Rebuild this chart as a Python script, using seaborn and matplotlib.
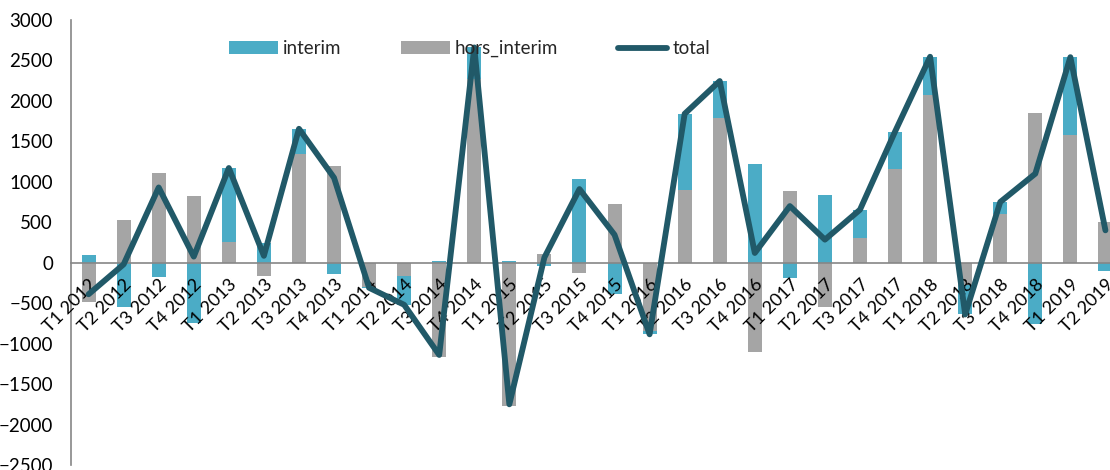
import numpy as np
import pandas as pd
import matplotlib
matplotlib.use('Agg')
import matplotlib.pyplot as plt
import seaborn as sns
from matplotlib.patches import Patch
from matplotlib.lines import Line2D

sns.set_theme(style='white')
plt.rcParams['font.family'] = ['Lato', 'DejaVu Sans']

# quarters
quarters = [f'T{q} {y}' for y in range(2012, 2019) for q in range(1, 5)] + ['T1 2019', 'T2 2019']

# values
interim = [90, -550, -180, -750, 910, 245, 310, -145, -10, -355,
           25, 390, 20, -45, 1040, -385, -35, 940, 455, 1225,
           -190, 835, 345, 460, 475, -370, 150, -755, 965, -100]
hors_interim = [-480, 530, 1110, 825, 260, -160, 1345, 1195, -300, -165,
                -1165, 2270, -1770, 110, -130, 730, -850, 900, 1790, -1105,
                890, -550, 310, 1160, 2070, -270, 600, 1855, 1575, 500]
total = [-390, -20, 930, 75, 1170, 85, 1655, 1050, -310, -520,
         -1140, 2660, -1750, 65, 910, 345, -885, 1840, 2245, 120,
         700, 285, 655, 1620, 2545, -640, 750, 1100, 2540, 400]

df = pd.DataFrame({'quarter': quarters, 'interim': interim,
                   'hors_interim': hors_interim, 'total': total})
# gray sits next to zero, blue is stacked beyond it when both have the same sign
same = np.sign(df['interim']) == np.sign(df['hors_interim'])
df['blue_end'] = np.where(same, df['interim'] + df['hors_interim'], df['interim'])
df['pos'] = np.arange(len(df))

BLUE = '#4bacc6'
GRAY = '#a5a5a5'
TEAL = '#215968'
AXIS = '#868686'
LW = 4.2

fig = plt.figure(figsize=(11.1, 4.7), dpi=100)
ax = fig.add_axes([0.064, 0.0106, 0.936, 0.947])

sns.barplot(data=df, x='quarter', y='blue_end', color=BLUE, width=0.4,
            saturation=1, linewidth=0, ax=ax, zorder=1)
sns.barplot(data=df, x='quarter', y='hors_interim', color=GRAY, width=0.4,
            saturation=1, linewidth=0, ax=ax, zorder=1.2)
sns.lineplot(data=df, x='pos', y='total', color=TEAL, linewidth=LW,
             sort=False, ax=ax, zorder=4)
for ln in ax.lines:
    ln.set_solid_joinstyle('round')
    ln.set_solid_capstyle('round')

# tick labels sit over the bars, under the line
ax.set_axisbelow(False)

ax.set_ylim(-2500, 3000)
ax.set_xlim(-0.5, 29.13)
ax.set_yticks(np.arange(-2500, 3001, 500))
ax.set_xlabel('')
ax.set_ylabel('')

for s in ['top', 'right']:
    ax.spines[s].set_visible(False)
ax.spines['bottom'].set_position(('data', 0))
for s in ['left', 'bottom']:
    ax.spines[s].set_color(AXIS)
    ax.spines[s].set_linewidth(1.2)

ax.set_xticks(np.arange(len(df)))
ax.set_xticklabels(quarters, rotation=45, ha='right', rotation_mode='anchor')
ax.set_xticks(np.arange(len(df) - 1) + 0.5, minor=True)
ax.tick_params(axis='x', which='major', length=0, pad=10, labelsize=13, colors='black')
ax.tick_params(axis='x', which='minor', length=5, width=1.2, color=AXIS, direction='out')
ax.tick_params(axis='y', length=5, width=1.2, color=AXIS, direction='out',
               labelsize=13.5, labelcolor='black', pad=8)
for t in ax.get_xticklabels():
    t.set_verticalalignment('top')

handles = [Patch(facecolor=BLUE, edgecolor='none', label='interim'),
           Patch(facecolor=GRAY, edgecolor='none', label='hors_interim'),
           Line2D([0], [0], color=TEAL, linewidth=LW, solid_capstyle='round', label='total')]
ax.legend(handles=handles, loc='center', bbox_to_anchor=(0.3835, 0.935), ncol=3,
          frameon=False, fontsize=13.5, handlelength=2.6, handleheight=0.69,
          handletextpad=0.27, columnspacing=3.2, borderpad=0, borderaxespad=0)

fig.savefig('out.png', dpi=100)
